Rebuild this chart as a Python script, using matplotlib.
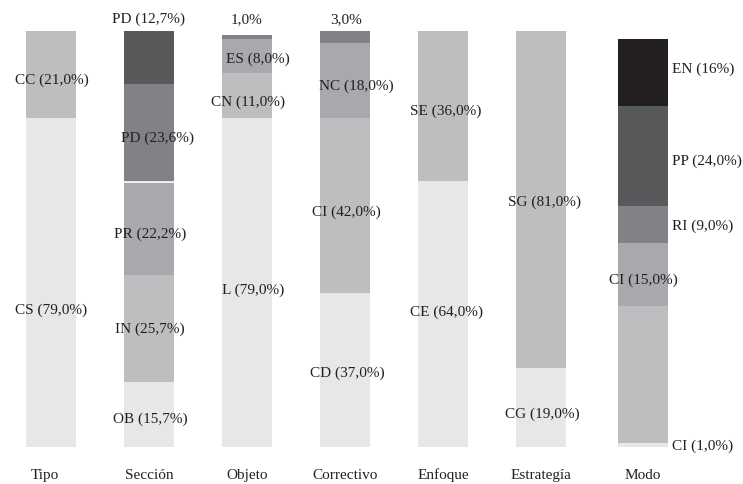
import numpy as np
import matplotlib
matplotlib.use("Agg")
import matplotlib.pyplot as plt

plt.rcParams['font.family'] = ['Liberation Serif', 'DejaVu Serif']

# categories
categorias = ["Tipo", "Sección", "Objeto", "Correctivo", "Enfoque", "Estrategía", "Modo"]

# segment values (bottom -> top), in percent
tipo = [79.0, 21.0]
seccion = [15.7, 25.7, 22.2, 23.6, 12.7]
objeto = [79.0, 11.0, 8.0, 1.0]
correctivo = [37.0, 42.0, 18.0, 3.0]
enfoque = [64.0, 36.0]
estrategia = [19.0, 81.0]
modo = [1.0, 33.0, 15.0, 9.0, 24.0, 16.0]

# segment labels (bottom -> top), None = no label
tipo_lab = ["CS (79,0%)", "CC (21,0%)"]
seccion_lab = ["OB (15,7%)", "IN (25,7%)", "PR (22,2%)", "PD (23,6%)", "PD (12,7%)"]
objeto_lab = ["L (79,0%)", "CN (11,0%)", "ES (8,0%)", "1,0%"]
correctivo_lab = ["CD (37,0%)", "CI (42,0%)", "NC (18,0%)", "3,0%"]
enfoque_lab = ["CE (64,0%)", "SE (36,0%)"]
estrategia_lab = ["CG (19,0%)", "SG (81,0%)"]
modo_lab = ["CI (1,0%)", None, "CI (15,0%)", "RI (9,0%)", "PP (24,0%)", "EN (16%)"]

valores = [tipo, seccion, objeto, correctivo, enfoque, estrategia, modo]
etiquetas = [tipo_lab, seccion_lab, objeto_lab, correctivo_lab, enfoque_lab,
             estrategia_lab, modo_lab]

# grey shades, lightest first
grises = ["#e6e7e8", "#bcbec0", "#a7a9ac", "#808285", "#58595b", "#231f20"]
col_idx = [[0, 1],
           [0, 1, 2, 3, 4],
           [0, 1, 2, 3],
           [0, 1, 2, 3],
           [0, 1],
           [0, 1],
           [0, 1, 2, 3, 4, 5]]

# label placement (y in percent, x offset in bar units, alignment)
lab_y = [[33, 88.5],
         [7, 28.6, 51.4, 74.5, 103],
         [38, 83, 93.5, 103],
         [18, 56.7, 87, 103],
         [32.7, 81],
         [8.2, 59],
         [0.5, None, 40.4, 53.4, 69, 91]]
lab_dx = [[0.0, 0.01],
          [0.01, 0.01, 0.01, 0.09, 0.0],
          [0.06, 0.01, 0.11, 0.0],
          [0.02, 0.01, 0.12, 0.01],
          [0.04, 0.03],
          [0.01, 0.04],
          [0.30, 0, 0.0, 0.30, 0.30, 0.30]]
lab_ha = [["center"] * 2, ["center"] * 5, ["center"] * 4, ["center"] * 4,
          ["center"] * 2, ["center"] * 2,
          ["left", "left", "center", "left", "left", "left"]]

posiciones = [0, 1, 2, 3, 4, 5, 6.04]
ancho = 0.51

fig = plt.figure(figsize=(7.43, 4.85), dpi=100)
ax = fig.add_axes([0, 37 / 485., 1, 416 / 485.])

for i, (vals, labs) in enumerate(zip(valores, etiquetas)):
    base = 0
    for j, v in enumerate(vals):
        ec = "white" if (i == 1 and j == 2) else "none"
        ax.bar(posiciones[i], v, width=ancho, bottom=base,
               color=grises[col_idx[i][j]], edgecolor="none", linewidth=0)
        base += v
        if labs[j] is not None:
            ax.text(posiciones[i] + lab_dx[i][j], lab_y[i][j], labs[j],
                    ha=lab_ha[i][j], va="center", fontsize=11, color="#231f20")
    if i == 1:
        # thin white separation line seen in the original
        ax.plot([posiciones[i] - ancho / 2, posiciones[i] + ancho / 2],
                [sum(vals[:3]), sum(vals[:3])], color="white", linewidth=1.2)

for i, c in enumerate(categorias):
    ax.text(posiciones[i] - (0.06 if i == 0 else 0.0), -6.5, c,
            ha="center", va="center", fontsize=11, color="#231f20")

ax.set_xlim(-51 / 98., (743 - 51) / 98.)
ax.set_ylim(0, 100)
ax.axis("off")

fig.savefig("out.png", dpi=100)
